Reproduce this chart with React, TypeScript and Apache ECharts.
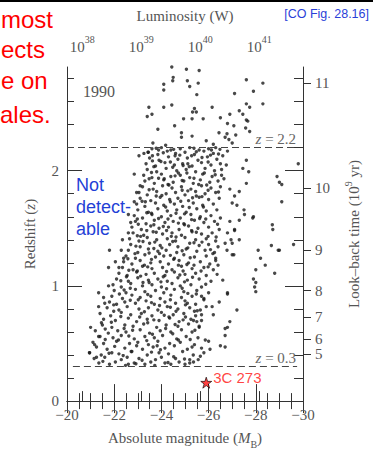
import React, { useEffect, useRef } from "react";
import * as echarts from "echarts";

// ---------- data ----------
const zMajor = [0, 1, 2];
const zMajorRight = [1, 2];
const zMinor = [0.2, 0.4, 0.6, 0.8, 1.2, 1.4, 1.6, 1.8, 2.2, 2.4, 2.6, 2.8];
const lookbackLabels = [5, 6, 7, 8, 9, 10, 11];
const lookbackZ = [0.41, 0.54, 0.73, 0.96, 1.31, 1.85, 2.76];
const lumExponents = [38, 39, 40, 41];
const zLimits = [2.2, 0.3];

const coreRows: number[][] = [
  [-21.35,0.33],[-21.8,0.32],[-22.05,0.34],[-22.6,0.32],[-22.85,0.33],[-23.3,0.32],[-23.55,0.34],[-24.15,0.33],[-24.4,0.32],[-24.75,0.34],[-25.0,0.32],
  [-21.15,0.37],[-21.6,0.38],[-22.3,0.36],[-22.55,0.38],[-23.05,0.37],[-23.75,0.36],[-24.0,0.38],[-24.6,0.37],[-25.2,0.36],
  [-20.95,0.42],[-21.45,0.40],[-21.9,0.42],[-22.2,0.41],[-22.75,0.43],[-23.4,0.40],[-23.9,0.42],[-24.3,0.41],[-24.9,0.43],[-25.35,0.40],
  [-21.25,0.47],[-21.7,0.45],[-22.45,0.46],[-22.95,0.48],[-23.2,0.45],[-23.65,0.47],[-24.15,0.46],[-24.55,0.48],[-25.1,0.45],
  [-21.1,0.51],[-21.55,0.50],[-22.1,0.52],[-22.65,0.50],[-23.0,0.51],[-23.45,0.49],[-23.85,0.52],[-24.35,0.50],[-24.8,0.51],[-25.4,0.49],
  [-21.4,0.56],[-21.95,0.55],[-22.3,0.57],[-22.85,0.54],[-23.3,0.56],[-23.7,0.55],[-24.05,0.57],[-24.65,0.54],[-25.05,0.56],[-25.55,0.55],
  [-21.2,0.61],[-21.75,0.59],[-22.15,0.61],[-22.5,0.60],[-23.1,0.62],[-23.5,0.59],[-23.95,0.61],[-24.4,0.60],[-24.85,0.62],[-25.3,0.60],
  [-21.5,0.66],[-21.9,0.64],[-22.45,0.66],[-22.8,0.65],[-23.25,0.67],[-23.8,0.64],[-24.2,0.66],[-24.7,0.65],[-25.15,0.67],[-25.6,0.64],
  [-21.55,0.71],[-22.05,0.70],[-22.6,0.72],[-22.95,0.69],[-23.4,0.71],[-23.9,0.70],[-24.35,0.72],[-24.75,0.69],[-25.25,0.71],[-25.7,0.70],
  [-21.4,0.76],[-21.85,0.74],[-22.3,0.77],[-22.7,0.75],[-23.15,0.76],[-23.6,0.74],[-24.0,0.77],[-24.5,0.75],[-24.95,0.76],[-25.45,0.74],
  [-21.7,0.81],[-22.2,0.79],[-22.55,0.82],[-23.05,0.80],[-23.45,0.81],[-23.85,0.79],[-24.25,0.82],[-24.7,0.80],[-25.2,0.81],[-25.65,0.79],
  [-21.8,0.86],[-22.1,0.84],[-22.45,0.86],[-22.9,0.85],[-23.35,0.87],[-23.7,0.84],[-24.15,0.86],[-24.6,0.85],[-25.0,0.87],[-25.45,0.84],
  [-21.9,0.91],[-22.35,0.89],[-22.75,0.92],[-23.1,0.90],[-23.55,0.91],[-23.95,0.89],[-24.4,0.92],[-24.85,0.90],[-25.3,0.91],[-25.8,0.89],
  [-22.0,0.96],[-22.5,0.94],[-22.9,0.97],[-23.3,0.95],[-23.75,0.96],[-24.1,0.94],[-24.55,0.97],[-24.95,0.95],[-25.5,0.96],[-26.0,0.94],
  [-21.95,1.01],[-22.3,0.99],[-22.7,1.02],[-23.2,1.00],[-23.6,1.01],[-24.0,0.99],[-24.45,1.02],[-24.8,1.00],[-25.25,1.01],[-25.7,0.99],
  [-22.1,1.06],[-22.6,1.04],[-23.0,1.07],[-23.45,1.05],[-23.85,1.06],[-24.25,1.04],[-24.7,1.07],[-25.1,1.05],[-25.6,1.06],[-26.1,1.04],
  [-22.2,1.11],[-22.55,1.09],[-22.95,1.12],[-23.35,1.10],[-23.7,1.11],[-24.15,1.09],[-24.55,1.12],[-25.0,1.10],[-25.45,1.11],[-25.9,1.09],
  [-22.35,1.16],[-22.8,1.14],[-23.2,1.17],[-23.6,1.15],[-24.05,1.16],[-24.45,1.14],[-24.85,1.17],[-25.3,1.15],[-25.8,1.16],[-26.2,1.14],
  [-22.4,1.21],[-22.75,1.19],[-23.1,1.22],[-23.55,1.20],[-23.95,1.21],[-24.3,1.19],[-24.75,1.22],[-25.15,1.20],[-25.65,1.21],[-26.05,1.19],
  [-22.5,1.26],[-22.9,1.24],[-23.3,1.27],[-23.75,1.25],[-24.1,1.26],[-24.55,1.24],[-24.95,1.27],[-25.4,1.25],[-25.9,1.26],[-26.3,1.24],
  [-22.6,1.31],[-23.0,1.29],[-23.45,1.32],[-23.85,1.30],[-24.2,1.31],[-24.65,1.29],[-25.05,1.32],[-25.5,1.30],[-25.85,1.31],[-26.25,1.29],
  [-22.7,1.36],[-23.1,1.34],[-23.5,1.37],[-23.95,1.35],[-24.35,1.36],[-24.7,1.34],[-25.2,1.37],[-25.6,1.35],[-26.0,1.36],[-26.4,1.34],
  [-22.65,1.41],[-23.05,1.39],[-23.4,1.42],[-23.8,1.40],[-24.25,1.41],[-24.6,1.39],[-25.0,1.42],[-25.45,1.40],[-25.9,1.41],[-26.3,1.39],
  [-22.8,1.46],[-23.25,1.44],[-23.65,1.47],[-24.05,1.45],[-24.45,1.46],[-24.85,1.44],[-25.3,1.47],[-25.7,1.45],[-26.15,1.46],
  [-22.75,1.51],[-23.15,1.49],[-23.55,1.52],[-23.9,1.50],[-24.3,1.51],[-24.75,1.49],[-25.15,1.52],[-25.55,1.50],[-26.0,1.51],[-26.45,1.49],
  [-22.9,1.56],[-23.35,1.54],[-23.7,1.57],[-24.15,1.55],[-24.5,1.56],[-24.95,1.54],[-25.4,1.57],[-25.8,1.55],[-26.25,1.56],
  [-22.85,1.61],[-23.2,1.59],[-23.6,1.62],[-24.0,1.60],[-24.4,1.61],[-24.8,1.59],[-25.25,1.62],[-25.65,1.60],[-26.1,1.61],[-26.5,1.59],
  [-23.0,1.66],[-23.45,1.64],[-23.85,1.67],[-24.25,1.65],[-24.65,1.66],[-25.05,1.64],[-25.5,1.67],[-25.9,1.65],[-26.35,1.66],
  [-22.95,1.71],[-23.3,1.69],[-23.75,1.72],[-24.1,1.70],[-24.55,1.71],[-24.9,1.69],[-25.35,1.72],[-25.75,1.70],[-26.2,1.71],
  [-23.1,1.76],[-23.55,1.74],[-23.95,1.77],[-24.35,1.75],[-24.7,1.76],[-25.15,1.74],[-25.6,1.77],[-26.0,1.75],[-26.45,1.76],
  [-23.05,1.81],[-23.4,1.79],[-23.8,1.82],[-24.2,1.80],[-24.6,1.81],[-25.0,1.79],[-25.45,1.82],[-25.85,1.80],[-26.3,1.81],
  [-23.2,1.86],[-23.65,1.84],[-24.05,1.87],[-24.45,1.85],[-24.85,1.86],[-25.25,1.84],[-25.7,1.87],[-26.1,1.85],[-26.5,1.86],
  [-23.3,1.91],[-23.7,1.89],[-24.1,1.92],[-24.5,1.90],[-24.95,1.91],[-25.35,1.89],[-25.65,1.92],[-26.05,1.90],[-26.4,1.91],
  [-23.25,1.96],[-23.6,1.94],[-24.0,1.97],[-24.4,1.95],[-24.8,1.96],[-25.2,1.94],[-25.75,1.97],[-26.15,1.95],[-26.55,1.96],
  [-23.4,2.01],[-23.8,1.99],[-24.2,2.02],[-24.65,2.00],[-25.05,2.01],[-25.45,1.99],[-25.85,2.02],[-26.25,2.00],
  [-23.35,2.06],[-23.75,2.04],[-24.15,2.07],[-24.55,2.05],[-24.9,2.06],[-25.3,2.04],[-25.7,2.07],[-26.1,2.05],[-26.5,2.06],
  [-23.5,2.11],[-23.9,2.09],[-24.3,2.12],[-24.7,2.10],[-25.1,2.11],[-25.55,2.09],[-25.95,2.12],[-26.35,2.10],
  [-23.45,2.16],[-23.85,2.14],[-24.25,2.17],[-24.6,2.15],[-25.0,2.16],[-25.4,2.14],[-25.8,2.17],[-26.2,2.15],
  [-23.6,2.19],[-24.0,2.20],[-24.4,2.18],[-24.8,2.19],[-25.2,2.20],[-25.6,2.18],[-26.0,2.19],[-26.3,2.20],
];

const coreFill: number[][] = [
  [-23.62,0.58],[-24.18,0.63],[-23.08,0.73],[-24.62,0.78],[-23.92,0.83],[-24.38,0.88],[-22.68,0.98],[-23.48,1.03],[-24.08,1.08],[-24.92,1.13],
  [-23.28,1.18],[-24.52,1.23],[-23.92,1.28],[-25.12,1.33],[-23.72,1.38],[-24.42,1.43],[-23.38,1.48],[-24.98,1.53],[-24.28,1.58],[-23.58,1.63],
  [-25.18,1.68],[-24.38,1.73],[-23.78,1.78],[-24.88,1.83],[-24.28,1.88],[-23.48,1.93],[-25.08,1.98],[-24.48,2.03],[-23.98,2.08],[-25.28,2.13],
  [-22.42,0.63],[-21.98,0.78],[-22.22,0.93],[-22.98,1.13],[-23.12,1.43],[-23.32,1.73],[-23.62,2.13],
  [-25.02,0.73],[-25.48,0.93],[-25.38,1.18],[-25.72,1.38],[-25.88,1.58],[-25.98,1.83],[-26.12,2.18],
  [-22.72,0.43],[-23.82,0.48],[-24.72,0.53],[-22.18,0.53],[-23.42,0.68],[-24.88,0.98],[-23.02,0.88],
  [-24.02,1.33],[-24.62,1.63],[-24.12,1.93],[-24.72,1.98],[-25.48,1.78],[-23.22,1.03],[-24.32,0.73],
  [-22.88,1.28],[-23.58,1.23],[-25.28,1.48],[-24.72,1.18],[-22.52,1.08],[-25.68,1.13],[-25.82,1.98],[-24.58,2.13],
  [-23.88,2.18],[-25.12,2.06],[-25.58,1.88],[-23.68,1.53],[-24.22,1.48],[-22.98,1.58],[-25.98,1.43],[-26.18,1.28],
  [-26.6,2.13],[-26.75,2.05],[-26.65,1.93],[-26.8,2.17],[-26.55,2.01],
];

const coreFill2: number[][] = [
  [-21.52,0.345],[-22.38,0.395],[-23.18,0.355],[-23.96,0.445],[-24.52,0.385],[-22.02,0.475],[-23.58,0.425],[-24.98,0.365],[-21.78,0.415],[-22.92,0.325],[-24.28,0.335],[-23.72,0.31],[-22.48,0.31],
  [-21.62,0.535],[-22.62,0.565],[-23.38,0.525],[-24.48,0.585],[-25.22,0.535],[-21.88,0.685],[-22.78,0.615],[-23.68,0.705],[-24.58,0.665],[-25.42,0.615],[-22.28,0.735],[-23.28,0.775],[-24.12,0.745],[-24.92,0.705],[-25.52,0.785],[-21.62,0.625],
  [-21.98,0.835],[-22.68,0.875],[-23.58,0.855],[-24.38,0.815],[-25.12,0.935],[-22.42,0.965],[-23.42,0.925],[-24.22,0.975],[-24.98,1.035],[-25.88,1.015],[-22.28,1.045],[-23.12,1.085],[-23.98,1.035],[-24.78,1.095],[-25.32,1.075],[-25.02,0.835],
  [-22.62,1.135],[-23.42,1.165],[-24.22,1.125],[-25.08,1.185],[-25.98,1.165],[-22.58,1.235],[-23.48,1.285],[-24.38,1.265],[-25.22,1.245],[-26.08,1.315],[-22.92,1.345],[-23.68,1.325],[-24.48,1.385],[-25.38,1.375],[-24.88,1.305],[-23.22,1.385],
  [-22.98,1.435],[-23.78,1.465],[-24.62,1.425],[-25.48,1.465],[-26.32,1.425],[-23.02,1.535],[-23.88,1.585],[-24.72,1.545],[-25.62,1.585],[-26.38,1.535],[-23.38,1.635],[-24.18,1.685],[-24.98,1.625],[-25.78,1.685],[-25.28,1.575],[-24.08,1.515],
  [-23.18,1.735],[-24.02,1.785],[-24.82,1.735],[-25.72,1.775],[-26.42,1.815],[-23.48,1.835],[-24.32,1.875],[-25.12,1.825],[-25.92,1.875],[-23.58,1.985],[-24.58,1.955],[-25.38,1.935],[-26.28,1.965],[-24.88,1.915],[-23.88,1.935],[-25.32,1.765],
  [-23.68,2.035],[-24.38,2.075],[-25.18,2.035],[-25.98,2.075],[-23.62,2.085],[-24.78,2.135],[-25.48,2.165],[-26.42,2.145],[-24.08,2.155],[-25.72,2.115],[-24.52,2.185],[-25.38,2.195],[-23.78,2.195],[-26.08,2.135],[-24.92,2.045],[-26.48,2.185],
];

const outliersHigh: number[][] = [
  [-24.44,2.90],[-25.06,2.88],[-25.6,2.87],[-24.5,2.81],[-24.48,2.78],[-24.1,2.75],[-24.1,2.70],
  [-23.47,2.55],[-24.1,2.55],[-24.44,2.57],[-23.4,2.47],[-23.6,2.49],[-24.94,2.45],[-24.56,2.39],
  [-23.85,2.36],[-24.85,2.33],[-24.85,2.29],[-23.64,2.24],[-24.18,2.22],
  [-25.1,2.78],[-25.56,2.76],[-25.2,2.73],[-25.5,2.66],[-27.6,2.79],[-28.3,2.76],[-27.1,2.67],[-27.9,2.69],
  [-28.3,2.58],[-27.6,2.58],[-26.15,2.55],[-25.4,2.54],[-25.32,2.51],[-25.48,2.51],[-27.3,2.52],[-27.74,2.55],
  [-27.45,2.49],[-26.9,2.49],[-26.5,2.46],[-25.77,2.45],[-25.3,2.45],[-27.6,2.44],[-26.8,2.41],[-27.07,2.39],
  [-27.57,2.37],[-27.74,2.34],[-26.44,2.33],[-25.3,2.30],[-26.78,2.32],[-27.15,2.31],[-26.7,2.29],[-26.86,2.27],
  [-27.0,2.24],[-27.66,2.43],[-26.2,2.23],[-25.9,2.26],
];

const outliersRight: number[][] = [
  [-29.1,1.88],[-29.1,1.73],[-27.6,1.89],[-27.2,1.70],[-27.1,1.78],[-27.5,1.66],[-27.52,1.62],[-27.9,1.60],
  [-27.3,1.57],[-26.9,1.56],[-28.7,1.53],[-28.72,1.49],[-27.1,1.49],[-27.3,1.40],[-26.8,1.46],[-29.6,1.36],
  [-28.66,1.35],[-28.95,1.31],[-28.1,1.31],[-28.2,1.24],[-28.4,1.18],[-28.0,1.14],[-28.8,1.11],[-27.9,1.06],
  [-28.0,1.03],[-27.95,0.99],[-27.07,1.27],[-26.7,1.37],[-27.0,1.37],[-26.78,1.31],[-26.36,1.10],[-26.4,1.18],
  [-27.3,1.82],[-26.9,1.84],[-28.9,1.95],[-29.0,1.90],[-29.8,2.06],[-29.0,1.31],[-27.6,2.09],[-27.7,1.99],
  [-27.45,2.02],[-27.87,1.59],[-27.0,1.72],[-27.1,1.48],[-26.95,1.40],[-27.0,1.27],[-26.8,0.94],[-27.2,0.79],
  [-25.7,0.91],[-25.8,0.88],[-26.8,0.93],[-28.0,0.95],[-26.15,0.82],[-25.9,0.82],[-25.4,0.78],[-25.7,0.75],
  [-25.5,0.69],[-25.36,0.70],[-26.9,0.69],[-26.8,0.64],[-25.6,0.65],[-26.7,0.57],[-25.86,0.53],[-26.0,0.52],
  [-26.5,0.48],[-26.7,0.47],[-25.3,0.47],[-25.7,0.46],[-26.06,0.45],[-25.8,0.42],[-25.65,0.39],[-25.56,0.36],
  [-25.36,0.34],[-25.2,0.33],[-25.1,0.85],[-26.7,0.63],[-26.3,1.22],[-26.6,1.05],[-26.45,0.86],[-26.2,0.75],
];

const outliersLeft: number[][] = [
  [-23.05,2.13],[-23.26,2.15],[-23.43,2.16],[-22.85,1.97],[-23.1,1.87],[-22.85,1.73],[-22.7,1.55],[-22.6,1.46],
  [-21.8,1.31],[-22.3,1.31],[-21.76,1.16],[-22.4,1.24],[-22.2,1.16],[-21.76,1.0],[-21.0,0.64],[-21.34,0.82],
  [-21.6,0.85],[-21.34,0.94],[-21.46,0.68],[-20.96,0.42],[-21.17,0.49],[-21.25,0.38],[-21.34,0.56],[-22.95,1.81],
  [-22.6,1.62],[-22.35,1.40],[-22.05,1.21],[-21.55,0.90],
];

const quasar3C273 = [[-25.9, 0.16]];

// ---------- helpers ----------
const SERIF = "Liberation Serif";
const SANS = "Liberation Sans";
const GRAY = "#555";
const LINE = "#333";
const minus = (v: number) => (v < 0 ? "\u2212" + Math.abs(v) : String(v));
const nameRich = {
  i: { fontStyle: "italic", fontSize: 15, fontFamily: SERIF, color: GRAY, lineHeight: 22 },
  sub: { fontSize: 10, fontFamily: SERIF, color: GRAY, lineHeight: 12, verticalAlign: "bottom" },
  sup: { fontSize: 10, fontFamily: SERIF, color: GRAY, lineHeight: 12, verticalAlign: "top" },
};
const STAR =
  "path://M50 0 L61.8 35.1 L98.5 35.1 L68.8 56.8 L80.2 91.8 L50 70.1 L19.8 91.8 L31.2 56.8 L1.5 35.1 L38.2 35.1 Z";

export default function App() {
  const ref = useRef<HTMLDivElement>(null);
  useEffect(() => {
    if (!ref.current) return;
    const chart = echarts.init(ref.current, null, { renderer: "svg" });
    const allPoints = [...coreRows, ...coreFill, ...coreFill2, ...outliersHigh, ...outliersRight, ...outliersLeft];
    const lumMin = 38 + (-20.65 - -20) / 2.5;
    const lumMax = 38 + (-20.65 - -30) / 2.5;

    const tickLine = { color: LINE, width: 1 };
    const labelBase = { fontFamily: SERIF, fontSize: 15, color: GRAY };
    const red = "#ff0000";
    const redText = (text: string, x: number, y: number) => ({
      type: "text", x, y,
      style: { text, textAlign: "left", textVerticalAlign: "middle", fontFamily: SANS, fontSize: 24, fill: red },
    });
    const blueText = (text: string, y: number) => ({
      type: "text", x: 76, y,
      style: { text, textAlign: "left", textVerticalAlign: "middle", fontFamily: SANS, fontSize: 18, fill: "#1f3fd6" },
    });

    chart.setOption({
      animation: false,
      textStyle: { fontFamily: SERIF },
      grid: { left: 67, right: 67, top: 67, bottom: 49, containLabel: false },
      xAxis: [
        {
          type: "value", position: "bottom", min: -30, max: -20, interval: 2, inverse: true,
          axisLine: { show: true, lineStyle: tickLine },
          axisTick: { show: true, inside: true, length: 17, lineStyle: tickLine },
          minorTick: { show: true, splitNumber: 4, length: 8, lineStyle: tickLine },
          splitLine: { show: false }, minorSplitLine: { show: false },
          axisLabel: { ...labelBase, margin: 6, formatter: (v: number) => minus(v) },
          name: "Absolute magnitude ({i|M}{sub|B})", nameLocation: "middle", nameGap: 25,
          nameTextStyle: { ...labelBase, lineHeight: 22, rich: nameRich },
        },
        {
          type: "value", position: "top", min: -30, max: -20, interval: 2, inverse: true,
          axisLine: { show: true, lineStyle: tickLine },
          axisTick: { show: true, inside: true, length: 12, lineStyle: tickLine },
          minorTick: { show: true, splitNumber: 4, length: 8, lineStyle: tickLine },
          splitLine: { show: false }, minorSplitLine: { show: false },
          axisLabel: { show: false },
        },
        {
          type: "value", position: "top", min: lumMin, max: lumMax,
          axisLine: { show: false },
          axisTick: { show: true, inside: false, length: 10, lineStyle: tickLine, customValues: lumExponents },
          splitLine: { show: false },
          axisLabel: {
            ...labelBase, margin: 13, customValues: lumExponents,
            formatter: (v: number) => "{b|10}{s|" + Math.round(v) + "}",
            rich: {
              b: { fontFamily: SERIF, fontSize: 15, color: GRAY, lineHeight: 20, verticalAlign: "bottom" },
              s: { fontFamily: SERIF, fontSize: 10, color: GRAY, lineHeight: 13, verticalAlign: "top" },
            },
          },
          name: "Luminosity (W)", nameLocation: "middle", nameGap: 40,
          nameTextStyle: { ...labelBase, lineHeight: 22 },
        },
      ],
      yAxis: [
        {
          type: "value", position: "left", min: 0, max: 2.9,
          axisLine: { show: true, lineStyle: tickLine },
          axisTick: { show: true, inside: true, length: 15, lineStyle: tickLine, customValues: zMajor },
          splitLine: { show: false },
          axisLabel: { ...labelBase, margin: 8, customValues: zMajor, formatter: (v: number) => String(v) },
          name: "Redshift ({i|z})", nameLocation: "middle", nameGap: 26, nameRotate: 90,
          nameTextStyle: { ...labelBase, lineHeight: 22, rich: nameRich },
        },
        {
          type: "value", position: "left", min: 0, max: 2.9,
          axisLine: { show: false },
          axisTick: { show: true, inside: true, length: 7, lineStyle: tickLine, customValues: zMinor },
          splitLine: { show: false }, axisLabel: { show: false },
        },
        {
          type: "value", position: "right", min: 0, max: 2.9,
          axisLine: { show: true, lineStyle: tickLine },
          axisTick: { show: true, inside: true, length: 18, lineStyle: tickLine, customValues: zMajorRight },
          splitLine: { show: false }, axisLabel: { show: false },
        },
        {
          type: "value", position: "right", min: 0, max: 2.9,
          axisLine: { show: false },
          axisTick: { show: true, inside: true, length: 9, lineStyle: tickLine, customValues: zMinor },
          splitLine: { show: false }, axisLabel: { show: false },
        },
        {
          type: "value", position: "right", min: 0, max: 2.9,
          axisLine: { show: false },
          axisTick: { show: true, inside: false, length: 8, lineStyle: tickLine, customValues: lookbackZ },
          splitLine: { show: false },
          axisLabel: {
            ...labelBase, margin: 12, customValues: lookbackZ,
            formatter: (v: number) => {
              const i = lookbackZ.findIndex((z) => Math.abs(z - v) < 1e-6);
              return i >= 0 ? String(lookbackLabels[i]) : "";
            },
          },
          name: "Look\u2013back time (10{sup|9} yr)", nameLocation: "middle", nameGap: 40, nameRotate: 90,
          nameTextStyle: { ...labelBase, lineHeight: 22, rich: nameRich },
        },
      ],
      series: [
        {
          type: "scatter", xAxisIndex: 0, yAxisIndex: 0, data: allPoints,
          symbol: "circle", symbolSize: 3.4, itemStyle: { color: "#1a1a1a" }, silent: true,
          markLine: {
            silent: true, symbol: "none",
            lineStyle: { type: [7, 4], color: "#444", width: 1.2 },
            label: {
              show: true, position: "insideEndTop", distance: 1,
              fontFamily: SERIF, fontSize: 15, color: "#666",
              rich: { i: { fontStyle: "italic", fontFamily: SERIF, fontSize: 15, color: "#666" } },
            },
            data: [
              [
                { coord: [-20, zLimits[0]], label: { formatter: "{i|z} = " + zLimits[0] } },
                { coord: [-29.75, zLimits[0]] },
              ],
              [
                { coord: [-20.25, zLimits[1]], label: { formatter: "{i|z} = " + zLimits[1] } },
                { coord: [-29.75, zLimits[1]] },
              ],
            ],
          },
        },
        {
          type: "scatter", xAxisIndex: 0, yAxisIndex: 0, data: quasar3C273,
          symbol: STAR, symbolSize: 11,
          itemStyle: { color: "#ff1010", borderColor: "#000", borderWidth: 0.8 },
          label: {
            show: true, position: "right", distance: 1, offset: [0, -5],
            formatter: "3C 273", fontFamily: SANS, fontSize: 15, color: "#ff1010",
          },
        },
      ],
      graphic: [
        { type: "rect", shape: { x: 0, y: 0, width: 373, height: 2 }, style: { fill: "#000" }, silent: true },
        redText("most", 1, 19),
        redText("ects", 1, 49),
        redText("e on", 1, 80),
        redText("ales.", 0, 114),
        { type: "text", x: 369, y: 14, style: { text: "[CO Fig. 28.16]", textAlign: "right", textVerticalAlign: "middle", fontFamily: SANS, fontSize: 12.5, fill: "#2a3fd8" } },
        blueText("Not", 185),
        blueText("detect-", 207),
        blueText("able", 229),
        { type: "text", x: 83, y: 91, style: { text: "1990", textAlign: "left", textVerticalAlign: "middle", fontFamily: SERIF, fontSize: 16, fill: GRAY } },
      ],
    });
    return () => chart.dispose();
  }, []);
  return <div ref={ref} style={{ position: "fixed", left: 0, top: 0, width: 373, height: 454, background: "#fff" }} />;
}
